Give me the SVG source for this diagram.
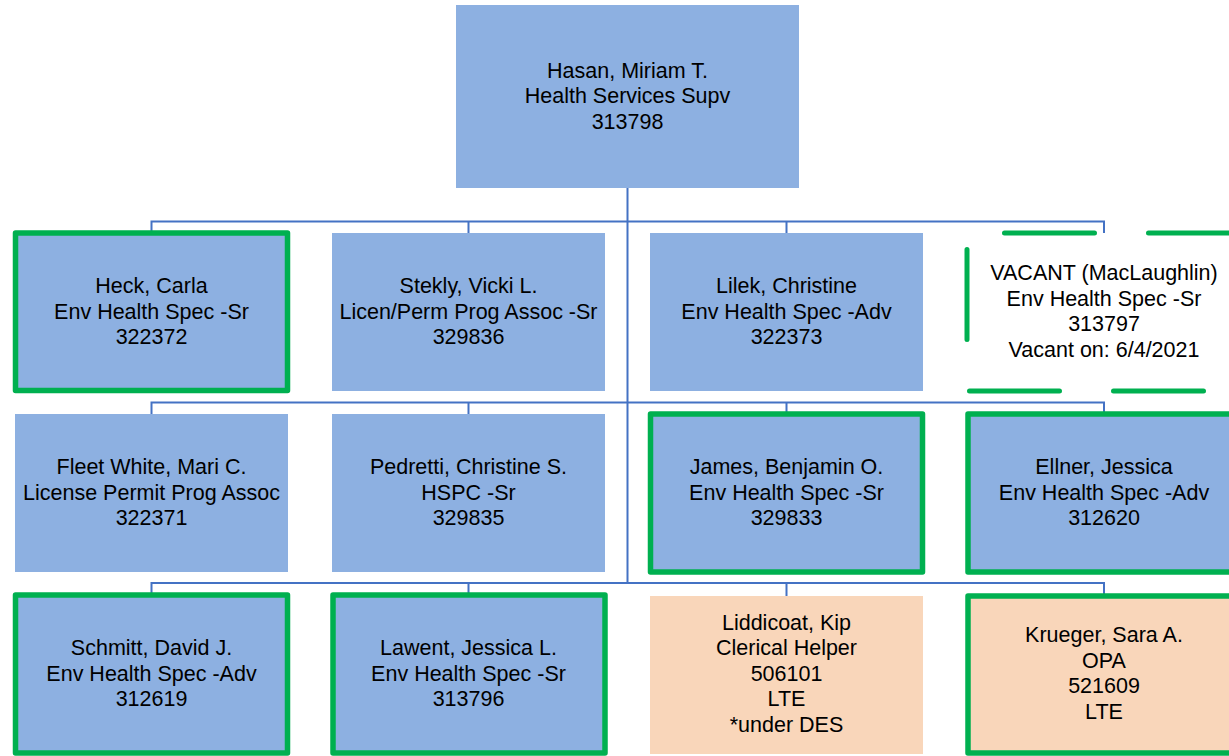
<svg xmlns="http://www.w3.org/2000/svg" width="1229" height="756" viewBox="0 0 1229 756">
<style>
.box{fill:#8DB0E1;}
.peach{fill:#F9D6BA;}
.green{stroke:#00B050;stroke-width:5.5;stroke-linejoin:round;}
.vacant{fill:none;stroke:#00B050;stroke-width:5;stroke-linecap:round;stroke-dasharray:90 54;stroke-dashoffset:106.5;}
.conn{fill:none;stroke:#4472C4;stroke-width:2;}
text{font-family:"Liberation Sans",Arial,sans-serif;font-size:21.5px;fill:#000;text-anchor:middle;}
</style>
<rect width="1229" height="756" fill="#fff"/>
<g id="connectors">
<path class="conn" d="M627.5 188 V583" stroke-width="2.5"/>
<path class="conn" d="M151.5 233 V221.5 H1104 V233 M468.5 221.5 V233 M786.5 221.5 V233"/>
<path class="conn" d="M151.5 414 V402.5 H1104 V414 M468.5 402.5 V414 M786.5 402.5 V414"/>
<path class="conn" d="M151.5 595 V583 H1104 V595 M468.5 583 V595 M786.5 583 V596"/>
</g>
<g id="n-hasan">
<rect class="box" x="456" y="5" width="343" height="183"/>
<text x="627.5" y="77.5">Hasan, Miriam T.</text>
<text x="627.5" y="103">Health Services Supv</text>
<text x="627.5" y="128.5">313798</text>
</g>
<g id="n-heck">
<rect class="box green" x="15.5" y="233" width="272" height="157.5"/>
<text x="151.5" y="293">Heck, Carla</text>
<text x="151.5" y="318.5">Env Health Spec -Sr</text>
<text x="151.5" y="344">322372</text>
</g>
<g id="n-stekly">
<rect class="box" x="332" y="233" width="273" height="158"/>
<text x="468.5" y="293">Stekly, Vicki L.</text>
<text x="468.5" y="318.5">Licen/Perm Prog Assoc -Sr</text>
<text x="468.5" y="344">329836</text>
</g>
<g id="n-lilek">
<rect class="box" x="650" y="233" width="273" height="158"/>
<text x="786.5" y="293">Lilek, Christine</text>
<text x="786.5" y="318.5">Env Health Spec -Adv</text>
<text x="786.5" y="344">322373</text>
</g>
<g id="n-vacant">
<rect class="vacant" x="967" y="233" width="274" height="158"/>
<text x="1104" y="280.25">VACANT (MacLaughlin)</text>
<text x="1104" y="305.75">Env Health Spec -Sr</text>
<text x="1104" y="331.25">313797</text>
<text x="1104" y="356.75">Vacant on: 6/4/2021</text>
</g>
<g id="n-fleetwhite">
<rect class="box" x="15" y="414" width="273" height="158"/>
<text x="151.5" y="474">Fleet White, Mari C.</text>
<text x="151.5" y="499.5">License Permit Prog Assoc</text>
<text x="151.5" y="525">322371</text>
</g>
<g id="n-pedretti">
<rect class="box" x="332" y="414" width="273" height="158"/>
<text x="468.5" y="474">Pedretti, Christine S.</text>
<text x="468.5" y="499.5">HSPC -Sr</text>
<text x="468.5" y="525">329835</text>
</g>
<g id="n-james">
<rect class="box green" x="650.5" y="414" width="272" height="158"/>
<text x="786.5" y="474">James, Benjamin O.</text>
<text x="786.5" y="499.5">Env Health Spec -Sr</text>
<text x="786.5" y="525">329833</text>
</g>
<g id="n-ellner">
<rect class="box green" x="968" y="414" width="272" height="158"/>
<text x="1104" y="474">Ellner, Jessica</text>
<text x="1104" y="499.5">Env Health Spec -Adv</text>
<text x="1104" y="525">312620</text>
</g>
<g id="n-schmitt">
<rect class="box green" x="15.5" y="595" width="272" height="158"/>
<text x="151.5" y="655">Schmitt, David J.</text>
<text x="151.5" y="680.5">Env Health Spec -Adv</text>
<text x="151.5" y="706">312619</text>
</g>
<g id="n-lawent">
<rect class="box green" x="333" y="595" width="272" height="158"/>
<text x="468.5" y="655">Lawent, Jessica L.</text>
<text x="468.5" y="680.5">Env Health Spec -Sr</text>
<text x="468.5" y="706">313796</text>
</g>
<g id="n-liddicoat">
<rect class="peach" x="650" y="596" width="273" height="158"/>
<text x="786.5" y="629.5">Liddicoat, Kip</text>
<text x="786.5" y="655">Clerical Helper</text>
<text x="786.5" y="680.5">506101</text>
<text x="786.5" y="706">LTE</text>
<text x="786.5" y="731.5">*under DES</text>
</g>
<g id="n-krueger">
<rect class="peach green" x="968" y="596" width="272" height="157"/>
<text x="1104" y="642.25">Krueger, Sara A.</text>
<text x="1104" y="667.75">OPA</text>
<text x="1104" y="693.25">521609</text>
<text x="1104" y="718.75">LTE</text>
</g>
</svg>
